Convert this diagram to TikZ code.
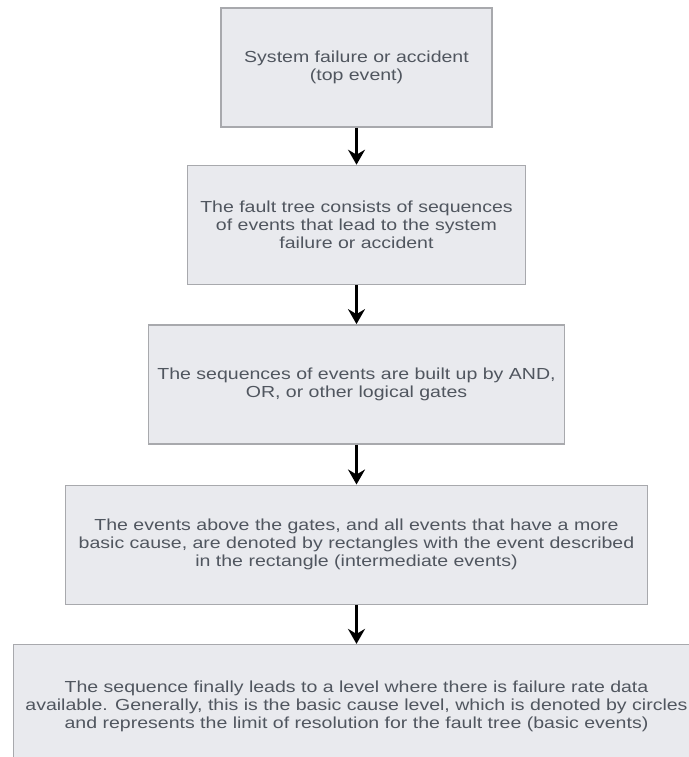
\documentclass[tikz,border=0pt]{standalone}
\usepackage{fontspec}
\newfontfamily\boxfont[FakeStretch=1.22]{Liberation Sans}
\usepackage{tikz}
\usetikzlibrary{arrows.meta,positioning}
\definecolor{boxfill}{HTML}{E9EAEE}
\definecolor{boxline}{HTML}{A8A9AD}
\definecolor{boxtext}{HTML}{50565F}

\begin{document}
\begin{tikzpicture}[
  node distance=39pt,
  font=\boxfont\fontsize{16pt}{18pt}\selectfont,
  evtbox/.style={draw=boxline, line width=1.4pt, fill=boxfill, text=boxtext,
    align=center, inner sep=0pt, minimum height=119pt},
  flow/.style={-{Stealth[length=15pt,width=17pt,inset=5pt]}, line width=2.4pt, black}
]
\useasboundingbox (0,0) rectangle (688pt,-757pt);

\node[evtbox, minimum width=271pt] (top) at (356.5pt,-67.5pt)
  {System failure or accident\\(top event)};
\node[evtbox, minimum width=338pt, below=37pt of top] (ftree)
  {The fault tree consists of sequences\\of events that lead to the system\\failure or accident};
\node[evtbox, minimum width=416pt, below=of ftree] (gates)
  {The sequences of events are built up by AND,\\OR, or other logical gates};
\node[evtbox, minimum width=582pt, below=40pt of gates] (inter)
  {The events above the gates, and all events that have a more\\basic cause, are denoted by rectangles with the event described\\in the rectangle (intermediate events)};
\node[evtbox, minimum width=686pt, minimum height=140pt, text depth=20pt, below=of inter] (basic)
  {The sequence finally leads to a level where there is failure rate data\\available. Generally, this is the basic cause level, which is denoted by circles\\and represents the limit of resolution for the fault tree (basic events)};

\draw[flow] (top) -- (ftree);
\draw[flow] (ftree) -- (gates);
\draw[flow] (gates) -- (inter);
\draw[flow] (inter) -- (basic);
\end{tikzpicture}
\end{document}
